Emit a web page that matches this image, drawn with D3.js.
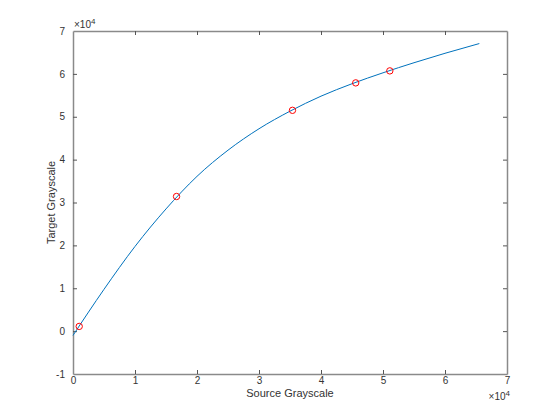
<!DOCTYPE html>
<html>
<head>
<meta charset="utf-8">
<script src="https://cdn.jsdelivr.net/npm/d3@7"></script>
<style>
  body { margin: 0; background: #fff; }
  text { font-family: "Liberation Sans", Arial, sans-serif; }
</style>
</head>
<body>
<svg id="chart" width="560" height="420"></svg>
<script>
// Fitted curve
const curve_x = [0, 5000, 10000, 15000, 20000, 25000, 30000, 35000, 40000, 45000, 50000, 55000, 60000, 65535]
const curve_y = [-1000, 9750, 19750, 28500, 36100, 42200, 47200, 51300, 54800, 57700, 60250, 62600, 64800, 67070]

// Control points (red circles)
const pts_x = [1000, 16700, 35400, 45600, 51100]
const pts_y = [1100, 31400, 51500, 57900, 60700]

const x_ticks = [0, 1, 2, 3, 4, 5, 6, 7]
const y_ticks = [-1, 0, 1, 2, 3, 4, 5, 6, 7]

let margin = {left: 73, right: 53, top: 31, bottom: 46}
let width = 560, height = 420
let axis_color = '#8a8a8a'
let text_color = '#333333'

let svg = d3.select('#chart')

let x = d3.scaleLinear().domain([0, 70000]).range([margin.left, width - margin.right])
let y = d3.scaleLinear().domain([-10000, 70000]).range([height - margin.bottom, margin.top])

// Axes (MATLAB-like box with inward ticks)
let tick_len = 4
let ax_bottom = svg.append('g')
  .attr('transform', `translate(0, ${y(-10000)})`)
  .call(d3.axisBottom(x).tickValues(x_ticks.map(d => d * 1e4)).tickFormat(d => d / 1e4).tickSizeInner(-tick_len).tickSizeOuter(0).tickPadding(3))
let ax_top = svg.append('g')
  .attr('transform', `translate(0, ${y(70000)})`)
  .call(d3.axisTop(x).tickValues(x_ticks.map(d => d * 1e4)).tickFormat('').tickSizeInner(-tick_len).tickSizeOuter(0))
let ax_left = svg.append('g')
  .attr('transform', `translate(${x(0)}, 0)`)
  .call(d3.axisLeft(y).tickValues(y_ticks.map(d => d * 1e4)).tickFormat(d => d / 1e4).tickSizeInner(-tick_len).tickSizeOuter(0).tickPadding(8))
let ax_right = svg.append('g')
  .attr('transform', `translate(${x(70000)}, 0)`)
  .call(d3.axisRight(y).tickValues(y_ticks.map(d => d * 1e4)).tickFormat('').tickSizeInner(-tick_len).tickSizeOuter(0))

for (let ax of [ax_bottom, ax_top, ax_left, ax_right]) {
  ax.select('.domain').attr('stroke', axis_color).attr('stroke-width', 1.5)
  ax.selectAll('.tick line').attr('stroke', '#555').attr('stroke-width', 1)
  ax.selectAll('.tick text').attr('fill', text_color).style('font-size', '10px')
}
// hide ticks sitting on the corners
ax_bottom.selectAll('.tick line').filter(d => d == 0 || d == 70000).remove()
ax_top.selectAll('.tick line').filter(d => d == 0 || d == 70000).remove()
ax_left.selectAll('.tick line').filter(d => d == -10000 || d == 70000).remove()
ax_right.selectAll('.tick line').filter(d => d == -10000 || d == 70000).remove()

// Exponent labels
svg.append('text')
  .attr('x', x(0) + 1).attr('y', y(70000) - 3)
  .attr('fill', text_color).style('font-size', '10px')
  .html('×10<tspan dy="-4" font-size="8px">4</tspan>')
svg.append('text')
  .attr('x', x(70000) + 3).attr('y', 400)
  .attr('text-anchor', 'end')
  .attr('fill', text_color).style('font-size', '10px')
  .html('×10<tspan dy="-4" font-size="8px">4</tspan>')

// Axis titles
svg.append('text')
  .attr('x', (x(0) + x(70000)) / 2).attr('y', 397)
  .attr('text-anchor', 'middle')
  .attr('fill', text_color).style('font-size', '11px')
  .text('Source Grayscale')
svg.append('text')
  .attr('transform', `translate(55, ${(y(-10000) + y(70000)) / 2}) rotate(-90)`)
  .attr('text-anchor', 'middle')
  .attr('fill', text_color).style('font-size', '11px')
  .text('Target Grayscale')

// Curve
let line = d3.line()
  .x(d => x(d[0]))
  .y(d => y(d[1]))
  .curve(d3.curveMonotoneX)
svg.append('path')
  .datum(curve_x.map((d, i) => [d, curve_y[i]]))
  .attr('d', line)
  .attr('fill', 'none')
  .attr('stroke', '#0072BD')
  .attr('stroke-width', 1)

// Points
svg.selectAll('.pt')
  .data(pts_x.map((d, i) => [d, pts_y[i]]))
  .join('circle')
  .attr('class', 'pt')
  .attr('cx', d => x(d[0]))
  .attr('cy', d => y(d[1]))
  .attr('r', 3.2)
  .attr('fill', 'none')
  .attr('stroke', '#ff0000')
  .attr('stroke-width', 1)
</script>
</body>
</html>
